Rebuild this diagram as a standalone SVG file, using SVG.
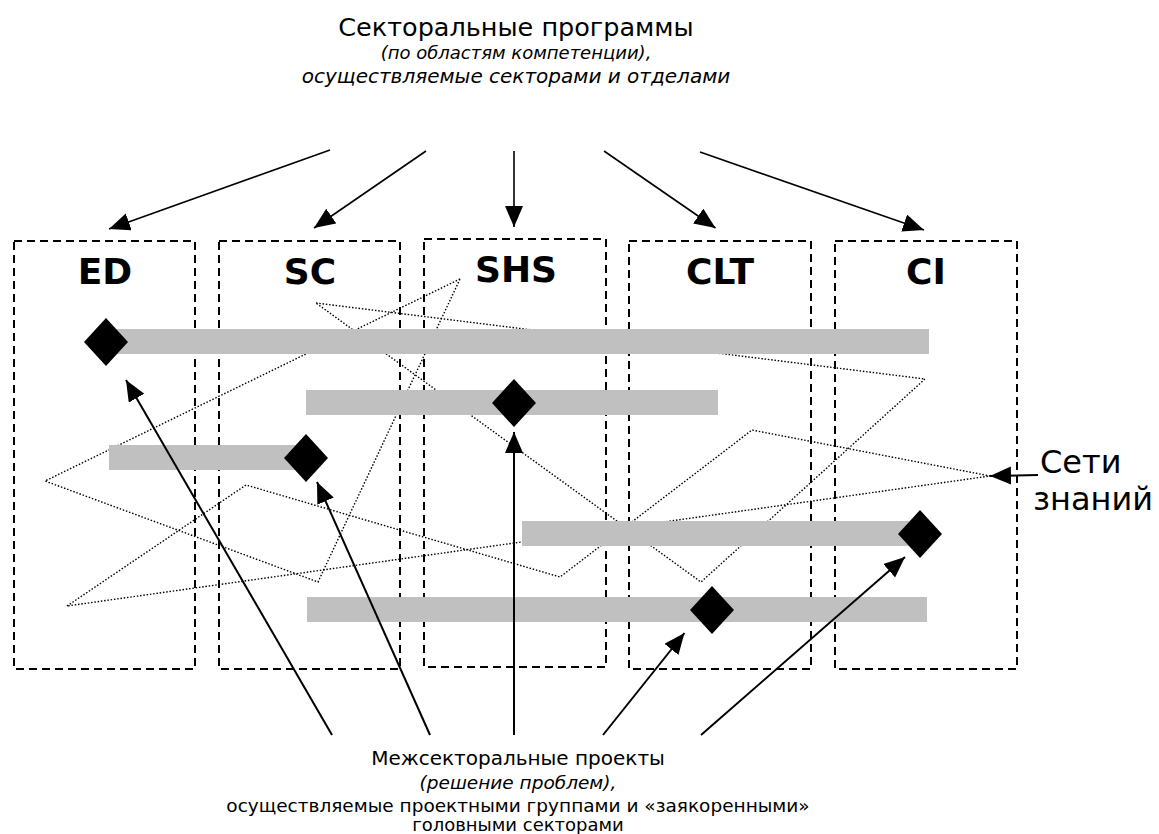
<svg xmlns="http://www.w3.org/2000/svg" width="1159" height="834" viewBox="0 0 1159 834">
<style>
.box{fill:none;stroke:#000;stroke-width:2;stroke-dasharray:8 5}
.lbl{font-family:"DejaVu Sans",Verdana,sans-serif;font-weight:bold;font-size:36px;text-anchor:middle;fill:#000}
.net{fill:none;stroke:#000;stroke-width:1.4;stroke-dasharray:1.5 1.8}
.bar{fill:#C0C0C0}
.dia{fill:#000}
.arr{fill:none;stroke:#000;stroke-width:1.6}
.arr2{fill:none;stroke:#000;stroke-width:2}
.t{font-family:"DejaVu Sans",Verdana,sans-serif;fill:#000;text-anchor:middle}
.it{font-style:italic}
.side{font-family:"DejaVu Sans",Verdana,sans-serif;font-size:32px;fill:#000}
</style>
<defs>
<marker id="ah" markerUnits="userSpaceOnUse" markerWidth="22" markerHeight="19" refX="21" refY="9" orient="auto">
<path d="M0,0 L21,9 L0,18 z" fill="#000"/>
</marker>
</defs>
<g id="node-ED"><rect class="box" x="14" y="241" width="181" height="428"/><text class="lbl" x="105" y="284">ED</text></g>
<g id="node-SC"><rect class="box" x="219" y="241" width="181" height="428"/><text class="lbl" x="310" y="284">SC</text></g>
<g id="node-SHS"><rect class="box" x="424" y="239" width="182" height="428"/><text class="lbl" x="516" y="282">SHS</text></g>
<g id="node-CLT"><rect class="box" x="629" y="241" width="182" height="428"/><text class="lbl" x="720" y="284">CLT</text></g>
<g id="node-CI"><rect class="box" x="835" y="241" width="182" height="428"/><text class="lbl" x="926" y="284">CI</text></g>
<g id="network">
<polygon class="net" points="316,303 925,379 701,582"/>
<polygon class="net" points="460,279 45,481 318,582"/>
<polygon class="net" points="67,606 246,485 560,577 752,430 990,476"/>
</g>
<g id="projects">
<rect class="bar" x="106" y="329" width="823" height="25"/>
<rect class="bar" x="306" y="390" width="412" height="25"/>
<rect class="bar" x="109" y="445" width="197" height="25"/>
<rect class="bar" x="522" y="521" width="398" height="25"/>
<rect class="bar" x="307" y="597" width="620" height="25"/>
<polygon class="dia" points="106,318 128,342 106,366 84,342"/>
<polygon class="dia" points="514,379 536,403 514,427 492,403"/>
<polygon class="dia" points="306,434 328,458 306,482 284,458"/>
<polygon class="dia" points="920,510 942,534 920,558 898,534"/>
<polygon class="dia" points="712,586 734,610 712,634 690,610"/>
</g>
<g id="connectors">
<line class="arr" x1="330" y1="150" x2="109" y2="229" marker-end="url(#ah)"/>
<line class="arr" x1="426" y1="151" x2="314" y2="228" marker-end="url(#ah)"/>
<line class="arr" x1="514" y1="151" x2="514" y2="227" marker-end="url(#ah)"/>
<line class="arr" x1="604" y1="151" x2="715.5" y2="228" marker-end="url(#ah)"/>
<line class="arr" x1="700" y1="152" x2="924" y2="230" marker-end="url(#ah)"/>
<line class="arr2" x1="332" y1="735" x2="126" y2="380" marker-end="url(#ah)"/>
<line class="arr2" x1="430" y1="735" x2="317" y2="482" marker-end="url(#ah)"/>
<line class="arr2" x1="514" y1="735" x2="514" y2="432" marker-end="url(#ah)"/>
<line class="arr2" x1="603" y1="735" x2="684.5" y2="633" marker-end="url(#ah)"/>
<line class="arr2" x1="701" y1="735" x2="905" y2="557" marker-end="url(#ah)"/>
<line class="arr2" x1="1038" y1="475" x2="990" y2="476" marker-end="url(#ah)"/>
</g>
<g id="top-label">
<text class="t" x="516" y="36" font-size="25.5">Секторальные программы</text>
<text class="t it" x="516" y="59" font-size="18">(по областям компетенции),</text>
<text class="t it" x="516" y="83" font-size="20">осуществляемые секторами и отделами</text>
</g>
<g id="bottom-label">
<text class="t" x="518" y="765" font-size="20">Межсекторальные проекты</text>
<text class="t it" x="518" y="789" font-size="18.5">(решение проблем),</text>
<text class="t" x="518" y="812" font-size="18.5">осуществляемые проектными группами и «заякоренными»</text>
<text class="t" x="518" y="831" font-size="18">головными секторами</text>
</g>
<g id="side-label">
<text class="side" x="1040" y="473">Сети</text>
<text class="side" x="1033" y="510">знаний</text>
</g>
</svg>
